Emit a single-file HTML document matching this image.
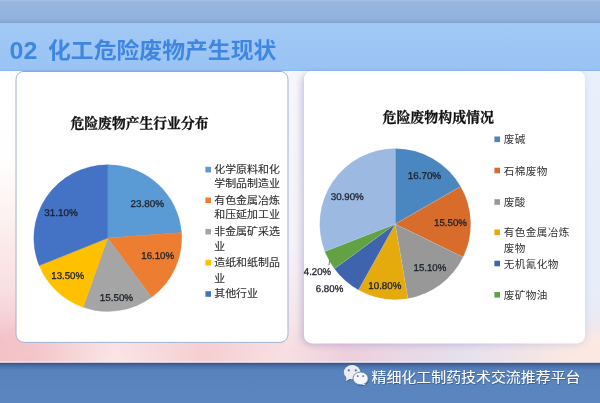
<!DOCTYPE html>
<html lang="zh-CN"><head><meta charset="utf-8"><title>02 化工危险废物产生现状</title>
<style>
html,body{margin:0;padding:0;background:#fff;}
body{width:600px;height:403px;overflow:hidden;position:relative;font-family:"Liberation Sans","Noto Sans CJK SC",sans-serif;}
svg{position:absolute;left:0;top:0;display:block}
.pl{font-family:"Liberation Sans",sans-serif;font-size:9.8px;fill:#1e222b;stroke:#1e222b;stroke-width:0.3px;text-rendering:geometricPrecision;}
.lg{font-family:"Liberation Sans","Noto Sans CJK SC",sans-serif;font-size:10.6px;letter-spacing:0.4px;fill:#333;}
.lg2{font-family:"Liberation Sans","Noto Sans CJK SC",sans-serif;font-size:9.9px;fill:#303030;stroke:#303030;stroke-width:0.12px;}
.ct{font-family:"Liberation Serif","Noto Serif CJK SC",serif;font-weight:700;font-size:14px;fill:#111;stroke:#111;stroke-width:0.3px;}
.hd{font-family:"Liberation Sans","Noto Sans CJK SC",sans-serif;font-weight:700;font-size:21.4px;fill:#3f86e0;}
.hn{font-family:"Liberation Sans","Noto Sans CJK SC",sans-serif;font-weight:700;font-size:24.2px;fill:#3f86e0;}
.ft{font-family:"Liberation Sans","Noto Sans CJK SC",sans-serif;font-size:14.2px;fill:#fff;}
</style></head><body>
<svg width="600" height="403" viewBox="0 0 600 403">
<defs>
<linearGradient id="gTop" x1="0" y1="0" x2="0" y2="1"><stop offset="0" stop-color="#a8c2e7"/><stop offset="0.07" stop-color="#99b6e0"/><stop offset="0.8" stop-color="#92b1dd"/><stop offset="0.93" stop-color="#87a7d5"/><stop offset="1" stop-color="#7fa0d0"/></linearGradient>
<linearGradient id="gHd" x1="0" y1="0" x2="0" y2="1"><stop offset="0" stop-color="#a0c9f6"/><stop offset="0.5" stop-color="#9dc6f5"/><stop offset="0.96" stop-color="#99c3f4"/><stop offset="1" stop-color="#8ab7ee"/></linearGradient>
<linearGradient id="gPink" x1="0" y1="0" x2="0" y2="1"><stop offset="0" stop-color="#ffffff"/><stop offset="0.3" stop-color="#fffefe"/><stop offset="0.5" stop-color="#fdf1f1"/><stop offset="0.75" stop-color="#f9dfe1"/><stop offset="0.92" stop-color="#f3c5ca"/><stop offset="1" stop-color="#f2c0c6"/></linearGradient>
<linearGradient id="gRight" x1="0" y1="0" x2="0" y2="1"><stop offset="0" stop-color="#e9effb"/><stop offset="0.78" stop-color="#e6ecf8"/><stop offset="0.92" stop-color="#f3e6ea"/><stop offset="1" stop-color="#fbe8e1"/></linearGradient>
<linearGradient id="gRightMask" x1="0" y1="0" x2="1" y2="0"><stop offset="0" stop-color="#fff" stop-opacity="0"/><stop offset="0.5" stop-color="#fff" stop-opacity="0.75"/><stop offset="1" stop-color="#fff" stop-opacity="1"/></linearGradient>
<mask id="mRight"><rect x="280" y="70" width="320" height="293" fill="url(#gRightMask)"/></mask>
<linearGradient id="gStrip" x1="0" y1="0" x2="1" y2="0">
<stop offset="0" stop-color="#f2c1c6"/><stop offset="0.06" stop-color="#f3c6ca"/><stop offset="0.19" stop-color="#fae6e6"/><stop offset="0.34" stop-color="#f5cfd2"/><stop offset="0.47" stop-color="#f8e0e2"/><stop offset="0.58" stop-color="#eccfdd"/><stop offset="0.78" stop-color="#e5e0ee"/><stop offset="0.95" stop-color="#fbe7e0"/><stop offset="1" stop-color="#fce9e1"/></linearGradient>
<linearGradient id="gStripMask" x1="0" y1="0" x2="0" y2="1"><stop offset="0" stop-color="#fff" stop-opacity="0"/><stop offset="0.45" stop-color="#fff" stop-opacity="0.9"/><stop offset="1" stop-color="#fff" stop-opacity="1"/></linearGradient>
<mask id="mStrip"><rect x="0" y="325" width="600" height="40" fill="url(#gStripMask)"/></mask>
<linearGradient id="gGap" x1="0" y1="0" x2="0" y2="1"><stop offset="0" stop-color="#f6f6fb"/><stop offset="0.6" stop-color="#f5f2f8"/><stop offset="0.9" stop-color="#f6e4e7"/><stop offset="1" stop-color="#f6e0e3"/></linearGradient>
<linearGradient id="gShadow" x1="0" y1="0" x2="1" y2="0"><stop offset="0" stop-color="#8a84bc"/><stop offset="0.5" stop-color="#8a88c4"/><stop offset="1" stop-color="#90a4e0" stop-opacity="0.7"/></linearGradient>
<linearGradient id="gFt" x1="0" y1="0" x2="0" y2="1"><stop offset="0" stop-color="#38507f"/><stop offset="0.03" stop-color="#3f5c92"/><stop offset="0.08" stop-color="#4a70a9"/><stop offset="0.18" stop-color="#5782bc"/><stop offset="1" stop-color="#5b86c0"/></linearGradient>
<filter id="sh" x="-10%" y="-10%" width="120%" height="120%"><feGaussianBlur stdDeviation="3.5"/></filter>
<filter id="ts" x="-5%" y="-20%" width="110%" height="150%"><feDropShadow dx="0.6" dy="0.8" stdDeviation="0.6" flood-color="#1d3660" flood-opacity="0.55"/></filter>
</defs>
<rect x="0" y="70" width="600" height="294" fill="url(#gPink)"/>
<rect x="280" y="70" width="320" height="294" fill="url(#gRight)" mask="url(#mRight)"/>
<rect x="284" y="70" width="24" height="290" fill="url(#gGap)"/>
<rect x="0" y="325" width="600" height="40" fill="url(#gStrip)" mask="url(#mStrip)"/>
<rect x="0" y="0" width="600" height="23.2" fill="url(#gTop)"/>
<rect x="0" y="23" width="600" height="48" fill="url(#gHd)"/>
<rect x="0" y="361.2" width="600" height="1.8" fill="#f3ecf6" opacity="0.75"/>
<rect x="0" y="362.8" width="600" height="41" fill="url(#gFt)"/>
<!-- right card shadow + card -->
<rect x="301.5" y="73" width="283.5" height="272" rx="9" fill="url(#gShadow)" opacity="0.44" filter="url(#sh)"/>
<rect x="304" y="71" width="281" height="272.4" rx="8" fill="#fff"/>
<!-- left card -->
<rect x="16" y="71.3" width="272" height="271.1" rx="8" fill="#fff" stroke="#9db4d6" stroke-width="1"/>
<path d="M23 71.3H281" stroke="#78a9e3" stroke-width="1" fill="none"/>
<text x="9.6" y="58.6" class="hn" textLength="27.8" lengthAdjust="spacingAndGlyphs">02</text>
<text x="48" y="58" class="hd" textLength="228.3" lengthAdjust="spacingAndGlyphs">化工危险废物产生现状</text>
<text x="70.5" y="128.3" class="ct" textLength="138" lengthAdjust="spacingAndGlyphs">危险废物产生行业分布</text>
<text x="382.5" y="122.3" class="ct" textLength="111.5" lengthAdjust="spacingAndGlyphs">危险废物构成情况</text>
<path d="M107.75 238.10L107.75 164.80A73.9 73.3 0 0 1 181.44 232.58Z" fill="#5b9bd5" stroke="#5b9bd5" stroke-width="0.4"/>
<path d="M107.75 238.10L181.44 232.58A73.9 73.3 0 0 1 151.56 297.13Z" fill="#ed7d31" stroke="#ed7d31" stroke-width="0.4"/>
<path d="M107.75 238.10L151.56 297.13A73.9 73.3 0 0 1 83.15 307.22Z" fill="#a5a5a5" stroke="#a5a5a5" stroke-width="0.4"/>
<path d="M107.75 238.10L83.15 307.22A73.9 73.3 0 0 1 39.21 265.51Z" fill="#ffc000" stroke="#ffc000" stroke-width="0.4"/>
<path d="M107.75 238.10L39.21 265.51A73.9 73.3 0 0 1 107.75 164.80Z" fill="#4472c4" stroke="#4472c4" stroke-width="0.4"/>
<path d="M395.20 224.10L395.20 148.60A75.5 75.5 0 0 1 460.66 186.49Z" fill="#4a86bf" stroke="#c9d6e8" stroke-width="0.4" stroke-opacity="0.38"/>
<path d="M395.20 224.10L460.66 186.49A75.5 75.5 0 0 1 463.11 257.10Z" fill="#d86d2b" stroke="#c9d6e8" stroke-width="0.4" stroke-opacity="0.38"/>
<path d="M395.20 224.10L463.11 257.10A75.5 75.5 0 0 1 407.95 298.52Z" fill="#989898" stroke="#c9d6e8" stroke-width="0.4" stroke-opacity="0.38"/>
<path d="M395.20 224.10L407.95 298.52A75.5 75.5 0 0 1 358.41 290.03Z" fill="#e5aa0c" stroke="#c9d6e8" stroke-width="0.4" stroke-opacity="0.38"/>
<path d="M395.20 224.10L358.41 290.03A75.5 75.5 0 0 1 334.40 268.86Z" fill="#3d64ad" stroke="#c9d6e8" stroke-width="0.4" stroke-opacity="0.38"/>
<path d="M395.20 224.10L334.40 268.86A75.5 75.5 0 0 1 324.83 251.45Z" fill="#62a244" stroke="#c9d6e8" stroke-width="0.4" stroke-opacity="0.38"/>
<path d="M395.20 224.10L324.83 251.45A75.5 75.5 0 0 1 395.20 148.60Z" fill="#9bb9e1" stroke="#c9d6e8" stroke-width="0.4" stroke-opacity="0.38"/>
<text x="130.55" y="207" class="pl" textLength="33.5" lengthAdjust="spacingAndGlyphs">23.80%</text>
<text x="141.3" y="259" class="pl" textLength="32.8" lengthAdjust="spacingAndGlyphs">16.10%</text>
<text x="99.7" y="301" class="pl" textLength="33.45" lengthAdjust="spacingAndGlyphs">15.50%</text>
<text x="51.3" y="279" class="pl" textLength="32.8" lengthAdjust="spacingAndGlyphs">13.50%</text>
<text x="44.25" y="216" class="pl" textLength="33.5" lengthAdjust="spacingAndGlyphs">31.10%</text>
<text x="407.7" y="179" class="pl" textLength="33.45" lengthAdjust="spacingAndGlyphs">16.70%</text>
<text x="434.0" y="226" class="pl" textLength="32.95" lengthAdjust="spacingAndGlyphs">15.50%</text>
<text x="413.5" y="271" class="pl" textLength="32.8" lengthAdjust="spacingAndGlyphs">15.10%</text>
<text x="368.3" y="289" class="pl" textLength="33.1" lengthAdjust="spacingAndGlyphs">10.80%</text>
<text x="315.75" y="292" class="pl" textLength="27.55" lengthAdjust="spacingAndGlyphs">6.80%</text>
<text x="303.8" y="275" class="pl" textLength="27.25" lengthAdjust="spacingAndGlyphs">4.20%</text>
<text x="330.75" y="200" class="pl" textLength="33.0" lengthAdjust="spacingAndGlyphs">30.90%</text>
<path d="M329.7 260.2L329 265.2" stroke="#6a6a82" stroke-width="0.9" fill="none"/>
<rect x="205.4" y="166.8" width="5.6" height="5.6" fill="#5b9bd5"/>
<text x="214.2" y="173.1" class="lg2" textLength="65.7" lengthAdjust="spacingAndGlyphs">化学原料和化</text>
<text x="214.2" y="187.3" class="lg2" textLength="65.7" lengthAdjust="spacingAndGlyphs">学制品制造业</text>
<rect x="205.4" y="197.5" width="5.6" height="5.6" fill="#ed7d31"/>
<text x="214.2" y="203.7" class="lg2" textLength="65.7" lengthAdjust="spacingAndGlyphs">有色金属冶炼</text>
<text x="214.2" y="217.9" class="lg2" textLength="65.7" lengthAdjust="spacingAndGlyphs">和压延加工业</text>
<rect x="205.4" y="228.9" width="5.6" height="5.6" fill="#a5a5a5"/>
<text x="214.2" y="235.0" class="lg2" textLength="65.7" lengthAdjust="spacingAndGlyphs">非金属矿采选</text>
<text x="214.2" y="250.2" class="lg2" textLength="10.9" lengthAdjust="spacingAndGlyphs">业</text>
<rect x="205.4" y="259.9" width="5.6" height="5.6" fill="#ffc000"/>
<text x="214.2" y="266.2" class="lg2" textLength="65.7" lengthAdjust="spacingAndGlyphs">造纸和纸制品</text>
<text x="214.2" y="281.6" class="lg2" textLength="10.9" lengthAdjust="spacingAndGlyphs">业</text>
<rect x="205.4" y="291.2" width="5.6" height="5.6" fill="#4472c4"/>
<text x="214.2" y="297.2" class="lg2" textLength="43.8" lengthAdjust="spacingAndGlyphs">其他行业</text>
<rect x="494.4" y="136.5" width="5.6" height="5.6" fill="#4a86bf"/>
<text x="503.8" y="143.3" class="lg">废碱</text>
<rect x="494.4" y="167.7" width="5.6" height="5.6" fill="#d86d2b"/>
<text x="503.8" y="174.5" class="lg">石棉废物</text>
<rect x="494.4" y="199.2" width="5.6" height="5.6" fill="#989898"/>
<text x="503.8" y="206.0" class="lg">废酸</text>
<rect x="494.4" y="229.5" width="5.6" height="5.6" fill="#e5aa0c"/>
<text x="503.8" y="236.3" class="lg">有色金属冶炼</text>
<text x="503.8" y="251.9" class="lg">废物</text>
<rect x="494.4" y="260.7" width="5.6" height="5.6" fill="#3d64ad"/>
<text x="503.8" y="267.5" class="lg">无机氰化物</text>
<rect x="494.4" y="292.0" width="5.6" height="5.6" fill="#62a244"/>
<text x="503.8" y="298.8" class="lg">废矿物油</text>
<!-- wechat icon -->
<g filter="url(#ts)">
<ellipse cx="352.1" cy="372.2" rx="8.2" ry="7.1" fill="#ececf0"/>
<path d="M346.6 377L345.9 381L350.4 378.6Z" fill="#ececf0"/>
<ellipse cx="360.6" cy="378.4" rx="7.6" ry="6.35" fill="#f6f6f8" stroke="#5b86c0" stroke-width="0.9"/>
<path d="M363.6 383.4L365.6 385.3L361.6 384.5Z" fill="#f6f6f8"/>
<circle cx="348.8" cy="370.3" r="1.1" fill="#4a70a8"/><circle cx="355.8" cy="370.3" r="1.1" fill="#4a70a8"/>
<circle cx="357.8" cy="376.1" r="0.95" fill="#4a70a8"/><circle cx="363.1" cy="376.1" r="0.95" fill="#4a70a8"/>
</g>
<text x="371.5" y="381.9" class="ft" filter="url(#ts)" textLength="209" lengthAdjust="spacingAndGlyphs">精细化工制药技术交流推荐平台</text>
</svg>
</body></html>
